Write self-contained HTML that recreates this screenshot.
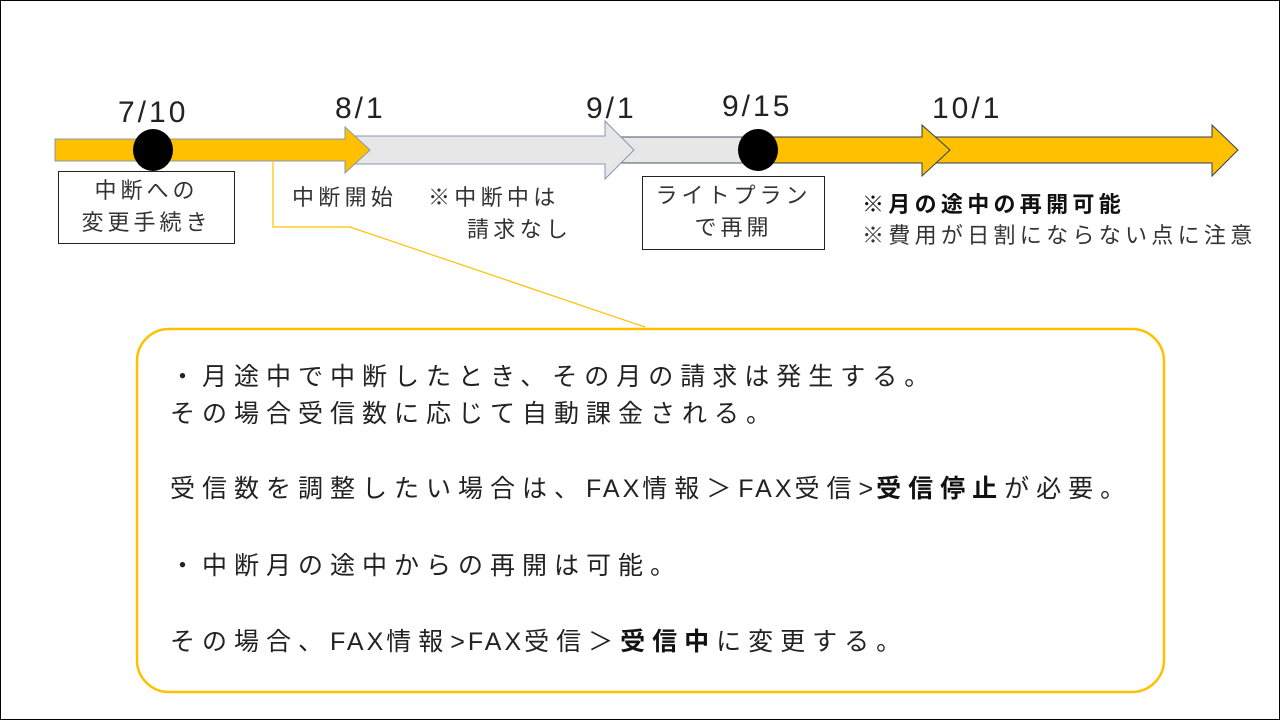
<!DOCTYPE html>
<html><head><meta charset="utf-8"><style>
body{margin:0;width:1280px;height:720px;overflow:hidden;background:#fff;font-family:"Liberation Sans","Noto Sans CJK JP",sans-serif;color:#222}
.t{position:absolute;white-space:nowrap;line-height:1}
.d{font-size:30px;letter-spacing:3px}
.s{font-size:22px;letter-spacing:4.3px;color:#333}
.c{font-size:25px;letter-spacing:7px}
.l{letter-spacing:3px}
.box{position:absolute;border:1.5px solid #222;background:#fff;text-align:center;font-size:22px;letter-spacing:4px;line-height:32px;color:#333}
b{font-weight:bold;color:#111}
</style></head><body>
<div style="position:absolute;left:0;top:0;width:1278px;height:718px;border:1px solid #000"></div>
<svg width="1280" height="720" style="position:absolute;left:0;top:0">
<polyline points="273,162 273,227 350,227 645,327" fill="none" stroke="#FFC000" stroke-width="1.2"/>
<polygon points="615,137 752,137 752,163 615,163" fill="#E7E7E7" stroke="#44546A" stroke-width="1"/>
<polygon points="350,136 605,136 605,121 634,150 605,179 605,164 350,164" fill="#E7E7E7" stroke="#8497B0" stroke-width="1"/>
<polygon points="55,139 345,139 345,127 370,150 345,173 345,161 55,161" fill="#FFC000" stroke="#8497B0" stroke-width="1"/>
<polygon points="925,137 1212,137 1212,125 1238,150 1212,176 1212,163 925,163" fill="#FFC000" stroke="#2F3E5A" stroke-width="1"/>
<polygon points="758,137 922,137 922,125 950,150 922,176 922,163 758,163" fill="#FFC000" stroke="#2F3E5A" stroke-width="1"/>
<ellipse cx="153" cy="150" rx="20" ry="21" fill="#000"/>
<ellipse cx="758" cy="150" rx="20" ry="21" fill="#000"/>
<rect x="137" y="329" width="1027" height="363" rx="32" fill="#fff" stroke="#FFC000" stroke-width="2.5"/>
</svg>
<div class="t d" style="left:118px;top:98px">7/10</div>
<div class="t d" style="left:335px;top:94px">8/1</div>
<div class="t d" style="left:586px;top:94px">9/1</div>
<div class="t d" style="left:722px;top:92px">9/15</div>
<div class="t d" style="left:932px;top:94px">10/1</div>
<div class="box" style="left:58px;top:171px;width:177px;height:73px;padding-top:3px;box-sizing:border-box">中断への<br>変更手続き</div>
<div class="box" style="left:642px;top:176px;width:183px;height:74px;padding-top:3px;box-sizing:border-box">ライトプラン<br>で再開</div>
<div class="t s" style="left:292px;top:187px">中断開始</div>
<div class="t s" style="left:428px;top:187px">※中断中は</div>
<div class="t s" style="left:467px;top:219px">請求なし</div>
<div class="t s" style="left:862px;top:194px"><b>※月の途中の再開可能</b></div>
<div class="t s" style="left:862px;top:225px">※費用が日割にならない点に注意</div>
<div class="t c" style="left:170px;top:359px;line-height:37px">・月途中で中断したとき、その月の請求は発生する。<br>その場合受信数に応じて自動課金される。</div>
<div class="t c" style="left:170px;top:477px">受信数を調整したい場合は、<span class="l">FAX</span>情報＞<span class="l">FAX</span>受信<span class="l">&gt;</span><b>受信停止</b>が必要。</div>
<div class="t c" style="left:170px;top:554px">・中断月の途中からの再開は可能。</div>
<div class="t c" style="left:170px;top:630px">その場合、<span class="l">FAX</span>情報<span class="l">&gt;FAX</span>受信＞<b>受信中</b>に変更する。</div>
</body></html>
